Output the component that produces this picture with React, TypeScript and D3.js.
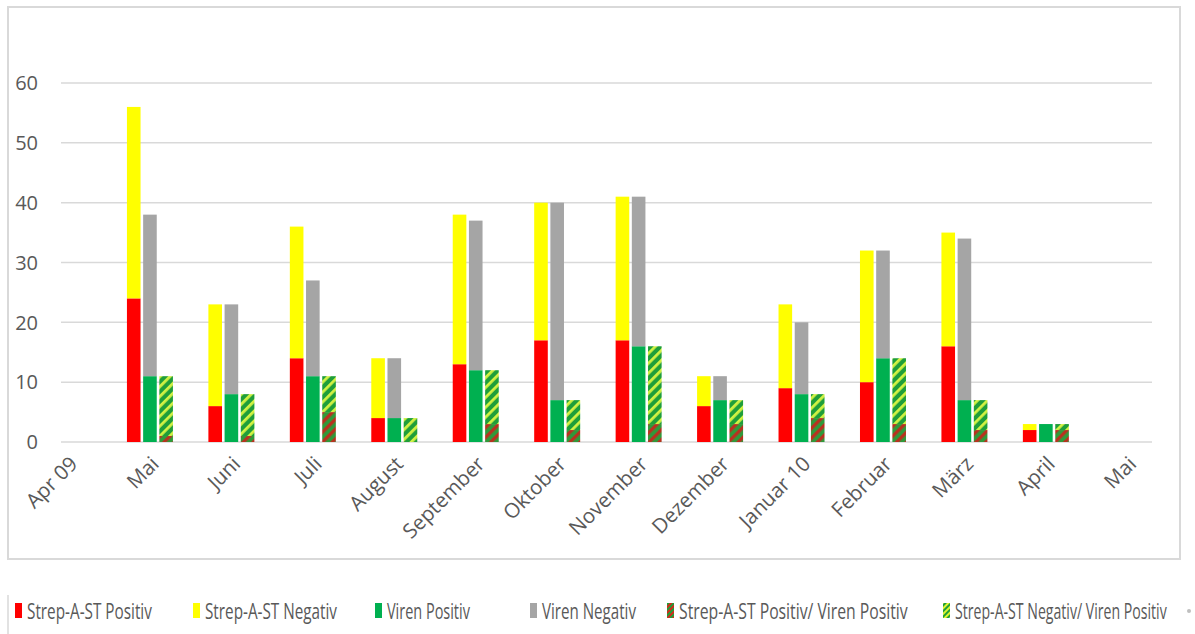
import { useEffect, useRef } from "react"
import * as d3 from "d3"

const months = ["Apr 09", "Mai", "Juni", "Juli", "August", "September", "Oktober", "November", "Dezember", "Januar 10", "Februar", "März", "April", "Mai"]
const strepPos = [0, 24, 6, 14, 4, 13, 17, 17, 6, 9, 10, 16, 2, 0]
const strepNeg = [0, 32, 17, 22, 10, 25, 23, 24, 5, 14, 22, 19, 1, 0]
const virenPos = [0, 11, 8, 11, 4, 12, 7, 16, 7, 8, 14, 7, 3, 0]
const virenNeg = [0, 27, 15, 16, 10, 25, 33, 25, 4, 12, 18, 27, 0, 0]
const posPos = [0, 1, 1, 5, 0, 3, 2, 3, 3, 4, 3, 2, 2, 0]
const negPos = [0, 10, 7, 6, 4, 9, 5, 13, 4, 4, 11, 5, 1, 0]
const yTicks = [0, 10, 20, 30, 40, 50, 60]
const legendLabels = ["Strep-A-ST Positiv", "Strep-A-ST Negativ", "Viren Positiv", "Viren Negativ", "Strep-A-ST Positiv/ Viren Positiv", "Strep-A-ST Negativ/ Viren Positiv"]

const W = 1195
const H = 634
const font = "'Open Sans', sans-serif"
const textCol = "#595959"
const gridCol = "#d9d9d9"

// stack groups: [cluster slot, lower series, upper series, lower fill, upper fill]
const groups: [string, number[], number[], string, string][] = [
  ["s", strepPos, strepNeg, "#ff0000", "#ffff00"],
  ["v", virenPos, virenNeg, "#00b050", "#a5a5a5"],
  ["h", posPos, negPos, "url(#hatchPP)", "url(#hatchNP)"],
]

const legendFills = ["#ff0000", "#ffff00", "#00b050", "#a5a5a5", "url(#hatchPPl)", "url(#hatchNPl)"]
const legendX = [15, 193, 375, 530, 667, 943]
const legendW = [125, 132, 83, 94, 229, 212]

export default function App() {
  const svgRef = useRef<SVGSVGElement>(null)
  const x = d3.scaleLinear().domain([-0.092, 13.303]).range([61, 1152])
  const y = d3.scaleLinear().domain([0, 60]).range([442, 83])
  const slot = d3.scaleBand().domain(["s", "v", "h"]).range([-23, 23]).paddingInner(0.16)
  const bw = slot.bandwidth()

  // squeeze legend texts horizontally to the condensed look of the original
  useEffect(() => {
    if (!svgRef.current) return
    d3.select(svgRef.current).selectAll<SVGTextElement, unknown>("text.leg").each(function (_, i) {
      const n = this.getComputedTextLength()
      const sx = n > 0 ? legendW[i] / n : 1
      d3.select(this).attr("transform", `translate(${legendX[i] + 12},611) scale(${sx},1)`)
    })
  }, [])

  return (
    <svg ref={svgRef} width={W} height={H} style={{ position: "absolute", left: 0, top: 0, background: "#fff" }}>
      <defs>
        <pattern id="hatchPP" width="7" height="7" patternUnits="userSpaceOnUse" patternTransform="rotate(45)">
          <rect width="7" height="7" fill="#2f9a3a" />
          <rect width="3.3" height="7" fill="#b8321f" />
        </pattern>
        <pattern id="hatchNP" width="7" height="7" patternUnits="userSpaceOnUse" patternTransform="rotate(45)">
          <rect width="7" height="7" fill="#1f9e3a" />
          <rect width="2.8" height="7" fill="#d2f243" />
        </pattern>
        <pattern id="hatchPPl" width="4" height="4" patternUnits="userSpaceOnUse" patternTransform="rotate(45)">
          <rect width="4" height="4" fill="#1f9e3a" />
          <rect width="2" height="4" fill="#d42a1a" />
        </pattern>
        <pattern id="hatchNPl" width="4" height="4" patternUnits="userSpaceOnUse" patternTransform="rotate(45)">
          <rect width="4" height="4" fill="#1f9e3a" />
          <rect width="2" height="4" fill="#e0f530" />
        </pattern>
      </defs>

      <rect x={8} y={7} width={1172} height={552} fill="#fff" stroke={gridCol} strokeWidth={2} />

      {yTicks.map(t => (
        <g key={t}>
          <line x1={x.range()[0]} x2={x.range()[1]} y1={y(t)} y2={y(t)} stroke={gridCol} strokeWidth={1.5} />
          <text x={38} y={y(t)} dy="0.36em" textAnchor="end" fontFamily={font} fontSize={20} fill={textCol}>{t}</text>
        </g>
      ))}

      {groups.map(([key, lower, upper, fLow, fUp]) =>
        months.map((_, i) => {
          const x0 = x(i) + (slot(key) as number)
          return (
            <g key={key + i}>
              {lower[i] > 0 && <rect x={x0} y={y(lower[i])} width={bw} height={y(0) - y(lower[i])} fill={fLow} />}
              {upper[i] > 0 && <rect x={x0} y={y(lower[i] + upper[i])} width={bw} height={y(lower[i]) - y(lower[i] + upper[i])} fill={fUp} />}
            </g>
          )
        })
      )}

      {months.map((m, i) => (
        <text key={"m" + i} transform={`translate(${x(i) + 3},${458}) rotate(-45)`} dy="0.5em" textAnchor="end"
          fontFamily={font} fontSize={20.5} fill={textCol}>{m}</text>
      ))}

      <line x1={8} x2={8} y1={595} y2={634} stroke={gridCol} strokeWidth={1.5} />
      {legendLabels.map((l, i) => (
        <g key={l}>
          <rect x={legendX[i]} y={603} width={7} height={15} fill={legendFills[i]} />
          <text className="leg" transform={`translate(${legendX[i] + 12},611)`} dy="0.36em" fontFamily={font}
            fontSize={21} fill={textCol}>{l}</text>
        </g>
      ))}
      <circle cx={1189} cy={611} r={2} fill="#bfbfbf" />
    </svg>
  )
}
